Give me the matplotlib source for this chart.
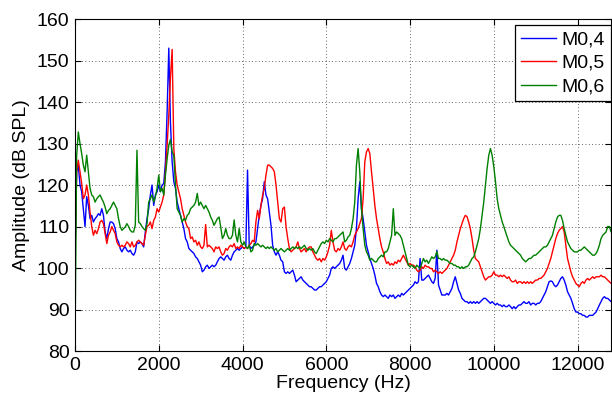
import numpy as np
import matplotlib.pyplot as plt

plt.rcParams['font.family'] = ['Liberation Sans', 'DejaVu Sans']

freq_step = 40

m04 = [  # blue
    102.0, 123.2, 124.8, 120.0, 118.4, 114.3, 110.0, 117.2, 115.1, 111.9,
    112.7, 111.1, 111.9, 112.4, 113.1, 112.7, 114.3, 112.7, 108.7, 107.1,
    109.5, 111.1, 111.1, 110.7, 109.5, 107.1, 106.3, 104.7, 103.9, 104.7,
    105.1, 104.3, 103.9, 104.3, 103.5, 103.1, 103.9, 106.3, 105.9, 106.3,
    105.9, 105.1, 108.7, 111.9, 114.3, 117.6, 120.0, 115.1, 117.6, 118.4,
    120.0, 118.4, 120.0,
    120.4, 125.6, 137.6, 153.0, 135.0, 125.6, 120.8, 119.2, 115.9, 114.3,
    112.7, 111.1, 109.5, 107.1, 106.3, 104.7, 104.3, 103.9, 103.5, 102.7,
    102.3, 101.5, 100.7, 99.1, 99.5, 100.3, 100.7, 99.9, 100.3, 100.7,
    100.3, 100.7, 101.5, 102.3, 102.7, 102.3, 101.9, 102.7, 103.1, 102.3,
    101.9, 103.1, 103.9, 104.3, 104.7, 104.3, 104.7, 105.1, 104.7, 105.1,
    123.6, 105.5, 104.7, 105.1,
    105.5, 106.3, 109.5, 112.7, 115.1, 116.7, 120.8, 117.6, 116.7, 113.5,
    110.3, 105.5, 103.9, 103.1, 103.9, 103.1, 101.9, 101.5, 99.1, 98.7,
    99.1, 98.7, 99.1, 99.5, 98.3, 96.7, 97.1, 97.5, 97.9, 97.1,
    96.7, 96.3, 95.9, 95.5, 95.5, 95.1, 94.7, 94.7, 95.1, 95.5,
    95.5, 95.9, 96.3, 96.7, 97.5, 98.3, 99.9, 100.3, 99.9, 100.3,
    100.7, 101.1, 101.9, 103.1,
    99.9, 99.5, 100.3, 101.1, 102.3, 103.9, 105.5, 109.5, 116.7, 120.8,
    114.3, 111.9, 108.7, 105.5, 103.9, 102.3, 101.1, 99.9, 98.3, 96.3,
    95.5, 94.3, 93.5, 93.1, 93.5, 93.1, 92.7, 93.5, 93.1, 93.5,
    92.7, 93.1, 93.5, 93.1, 93.9, 93.5, 93.9, 94.3, 94.7, 95.1,
    95.5, 95.9, 96.7, 96.3, 96.7, 102.3, 97.1, 97.1, 97.5, 97.9,
    98.3, 97.5, 96.7, 96.3,
    97.5, 104.3, 95.9, 94.7, 93.5, 93.5, 93.5, 93.9, 93.5, 94.3,
    95.1, 96.7, 97.9, 96.3, 94.7, 93.9, 92.7, 92.3, 91.9, 91.9,
    91.5, 91.9, 91.5, 91.9, 91.5, 91.9, 91.5, 91.9, 92.3, 92.7,
    92.7, 92.3, 91.9, 91.5, 91.9, 91.5, 91.1, 91.5, 91.1, 91.1,
    90.7, 91.1, 90.7, 90.7, 91.1, 90.7, 90.2, 90.7, 90.2, 90.7,
    91.1, 91.1, 91.5, 91.9,
    91.5, 91.5, 91.9, 91.1, 91.5, 91.5, 91.1, 91.5, 91.5, 91.9,
    92.7, 93.5, 94.3, 95.5, 96.7, 96.9, 96.7, 95.9, 95.5, 95.9,
    96.7, 97.5, 97.9, 97.1, 95.9, 94.3, 93.5, 92.7, 91.5, 90.2,
    89.4, 89.4, 89.0, 89.0, 88.6, 88.6, 88.2, 88.2, 88.6, 88.6,
    88.6, 89.0, 89.4, 90.2, 91.1, 91.9, 92.7, 93.1, 92.7, 92.7,
    92.3, 91.9, 91.9,
]

m05 = [  # red
    103.0, 123.2, 126.0, 123.2, 120.4, 116.7, 117.6, 120.0, 117.6, 113.5,
    110.0, 107.9, 109.1, 108.3, 109.5, 111.1, 111.5, 110.7, 108.3, 105.9,
    107.9, 108.7, 110.0, 109.1, 108.3, 106.3, 105.5, 105.1, 105.5, 105.1,
    105.5, 106.3, 105.9, 105.1, 106.3, 105.1, 105.5, 106.3, 106.7, 106.3,
    105.9, 105.5, 107.9, 110.0, 110.3, 111.1, 109.5, 111.5, 112.3, 114.3,
    113.5, 114.7, 115.9,
    117.6, 123.2, 129.6, 136.8, 146.0, 152.7, 128.8, 123.2, 120.0, 118.4,
    116.7, 114.3, 112.7, 111.1, 110.0, 109.5, 107.1, 107.5, 106.3, 106.7,
    105.5, 106.3, 105.1, 104.7, 105.5, 110.5, 105.1, 105.5, 105.1, 104.7,
    103.9, 105.1, 104.7, 105.1, 103.9, 103.1, 103.5, 104.7, 104.3, 105.1,
    105.5, 105.1, 105.9, 104.7, 105.1, 104.7, 105.5, 105.1, 104.7, 105.1,
    104.7, 105.5, 105.9, 106.7,
    106.3, 111.1, 113.9, 111.9, 115.1, 117.6, 119.2, 122.4, 124.8, 124.8,
    124.4, 124.0, 123.2, 120.0, 115.9, 111.9, 111.1, 114.3, 114.7, 109.9,
    107.1, 104.7, 103.9, 104.3, 104.7, 105.1, 106.3, 104.7, 103.9, 104.3,
    104.7, 103.9, 104.7, 105.1, 105.1, 103.9, 103.1, 102.3, 101.9, 102.3,
    101.5, 102.3, 101.9, 102.7, 103.9, 105.5, 109.1, 106.3, 104.3, 103.9,
    104.7, 104.3, 105.1, 106.3,
    104.7, 104.3, 105.1, 105.5, 105.1, 106.3, 107.9, 108.7, 109.5, 110.7,
    111.9, 116.7, 125.6, 128.0, 128.8, 127.6, 123.2, 119.2, 115.1, 111.9,
    109.5, 107.1, 105.1, 103.9, 102.3, 101.1, 101.5, 100.7, 101.1, 100.7,
    101.5, 101.1, 101.9, 101.5, 102.3, 103.1, 102.3, 101.5, 100.7, 101.1,
    100.7, 100.7, 100.3, 99.5, 99.1, 99.5, 100.3, 99.9, 100.7, 100.3,
    100.3, 99.9, 99.9, 99.1,
    99.5, 99.1, 98.7, 99.1, 98.7, 99.1, 99.5, 99.9, 100.7, 101.5,
    102.3, 103.1, 104.3, 106.3, 107.9, 109.5, 110.7, 111.9, 112.7, 112.4,
    111.1, 109.5, 107.1, 104.3, 102.3, 101.9, 101.5, 100.3, 99.1, 97.9,
    97.1, 97.5, 97.9, 97.9, 98.3, 99.1, 98.3, 98.3, 97.9, 98.3,
    97.9, 98.3, 97.9, 97.5, 97.9, 97.1, 96.7, 96.7, 97.1, 96.3,
    96.7, 96.7, 96.3, 96.7,
    96.3, 96.7, 96.3, 96.7, 96.3, 96.7, 97.1, 97.1, 97.5, 97.5,
    97.9, 98.3, 99.1, 99.9, 101.1, 102.3, 103.9, 105.5, 107.1, 108.3,
    109.1, 109.5, 110.0, 108.7, 105.5, 102.3, 100.7, 99.1, 97.9, 97.1,
    96.3, 95.9, 95.5, 96.3, 96.7, 96.3, 97.1, 97.5, 97.1, 97.5,
    97.9, 97.5, 97.9, 97.9, 97.9, 98.3, 97.9, 97.9, 97.5, 97.1,
    96.7, 96.3, 96.3,
]

m06 = [  # green
    80.0, 127.0, 132.8, 130.0, 127.6, 124.8, 123.2, 127.2, 123.2, 119.2,
    117.6, 117.2, 115.9, 116.7, 117.2, 117.6, 116.7, 115.9, 114.7, 113.1,
    113.9, 114.3, 115.1, 115.9, 115.1, 114.3, 111.9, 110.0, 109.1, 109.5,
    109.9, 110.7, 110.0, 109.1, 108.7, 108.7, 110.3, 128.4, 111.1, 110.7,
    110.0, 109.5, 109.1, 110.7, 115.9, 116.7, 117.6, 115.9, 117.2, 119.2,
    122.4, 118.4, 119.2,
    117.6, 122.4, 126.3, 129.6, 131.0, 128.0, 127.2, 120.0, 114.3, 113.5,
    112.7, 111.1, 111.9, 111.5, 112.7, 113.1, 114.3, 114.7, 115.1, 115.9,
    118.0, 115.1, 115.9, 115.1, 114.3, 115.1, 114.3, 113.5, 112.3, 111.5,
    110.3, 111.1, 111.9, 112.3, 109.9, 107.1, 107.9, 109.5, 107.9, 107.1,
    107.1, 107.9, 111.6, 107.9, 106.3, 109.5, 106.3, 105.5, 106.3, 105.1,
    104.7, 105.5, 103.9, 104.3,
    105.9, 105.5, 105.9, 105.5, 105.1, 105.5, 105.1, 104.7, 105.1, 104.7,
    105.1, 104.7, 104.3, 104.7, 103.9, 104.3, 104.7, 104.3, 103.9, 104.3,
    104.7, 104.3, 104.7, 105.1, 104.7, 105.1, 104.7, 105.1, 104.7, 105.1,
    105.5, 104.7, 104.3, 104.7, 104.3, 104.7, 103.9, 103.5, 104.3, 105.1,
    105.9, 106.3, 105.9, 106.7, 106.3, 107.1, 106.7, 106.3, 107.1, 107.1,
    107.5, 107.9, 108.3, 108.7,
    106.3, 106.7, 107.5, 107.9, 109.5, 111.9, 115.9, 124.8, 128.8, 123.2,
    114.3, 109.5, 105.5, 103.9, 103.1, 101.9, 102.3, 101.9, 101.5, 101.5,
    102.3, 102.7, 103.1, 102.7, 103.9, 103.9, 104.7, 106.3, 107.9, 114.3,
    107.9, 108.7, 108.3, 107.9, 107.1, 105.5, 103.9, 102.3, 100.7, 100.3,
    100.7, 100.3, 99.9, 100.7, 100.3, 99.9, 101.1, 102.3, 101.5, 101.9,
    101.1, 101.9, 102.7, 102.3,
    102.7, 104.0, 102.3, 102.3, 101.9, 102.3, 101.9, 101.9, 101.5, 101.1,
    101.1, 100.7, 100.7, 100.3, 100.3, 99.9, 100.3, 99.9, 100.3, 100.3,
    100.7, 101.5, 102.3, 102.7, 103.9, 105.5, 107.1, 109.5, 112.7, 115.9,
    120.0, 124.0, 127.2, 128.8, 127.2, 124.4, 120.8, 116.7, 114.3, 112.7,
    111.1, 110.0, 108.7, 107.5, 106.3, 105.5, 105.1, 104.7, 104.3, 103.9,
    103.5, 103.1, 102.3, 101.9,
    101.5, 101.9, 102.3, 102.3, 102.7, 103.1, 103.1, 103.5, 103.9, 104.3,
    104.7, 105.1, 105.1, 105.5, 106.3, 107.1, 107.9, 109.5, 111.1, 112.3,
    112.7, 112.7, 111.5, 109.5, 107.9, 106.3, 105.5, 104.7, 104.3, 103.9,
    103.9, 103.9, 104.3, 104.3, 104.7, 105.1, 104.7, 104.3, 103.9, 103.5,
    103.1, 103.1, 103.5, 104.3, 105.5, 107.1, 107.9, 108.3, 108.7, 110.0,
    110.0, 108.7, 109.1,
]

labels = ['M0,4', 'M0,5', 'M0,6']
colors = ['#0000ff', '#ff0000', '#008000']

fig = plt.figure(figsize=(6.12, 3.98), dpi=100)
ax = fig.add_axes([0.1225, 0.118, 0.876, 0.834])

for vals, lab, col in zip([m04, m05, m06], labels, colors):
    f = np.arange(len(vals)) * freq_step
    ax.plot(f, vals, color=col, lw=1.0, label=lab)

ax.set_xlim(0, 12800)
ax.set_ylim(80, 160)
ax.set_xticks(range(0, 12001, 2000))
ax.set_yticks(range(80, 161, 10))
ax.grid(True, linestyle=(0, (1, 3)), color='#333333', linewidth=0.6)
ax.tick_params(direction='in', top=True, right=True, labelsize=14, length=4, pad=4)
for s in ax.spines.values():
    s.set_linewidth(0.8)

ax.set_xlabel('Frequency (Hz)', fontsize=14, labelpad=1)
ax.set_ylabel('Amplitude (dB SPL)', fontsize=14, labelpad=5)

leg = ax.legend(loc='upper right', bbox_to_anchor=(1.0, 0.982), borderaxespad=0,
                fontsize=14, fancybox=False, edgecolor='black', framealpha=1,
                handlelength=1.8, handletextpad=0.3, labelspacing=0.3,
                borderpad=0.3)
leg.get_frame().set_linewidth(0.9)

fig.savefig('out.png', dpi=100)
